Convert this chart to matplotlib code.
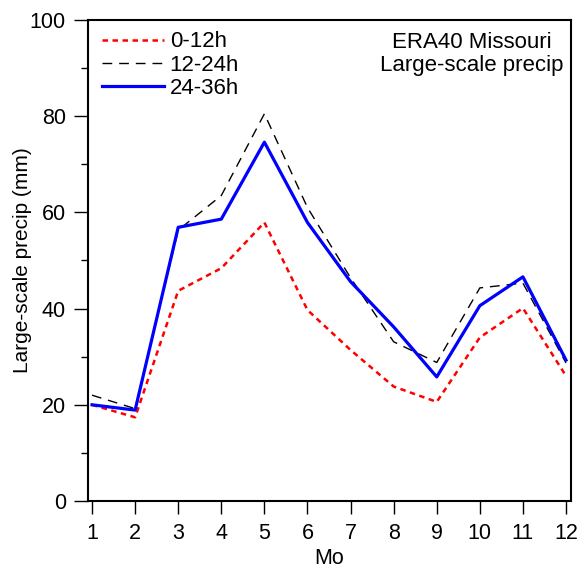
import matplotlib
matplotlib.use("Agg")
import matplotlib.pyplot as plt
import numpy as np

months = np.arange(1, 13)
precip_0_12 = [20.0, 17.4, 43.7, 48.4, 57.9, 39.7, 31.4, 23.8, 20.6, 34.0, 40.1, 26.0]
precip_12_24 = [22.0, 19.2, 56.3, 63.5, 80.5, 61.0, 46.4, 33.1, 28.8, 44.3, 45.3, 28.7]
precip_24_36 = [20.0, 18.9, 56.9, 58.6, 74.6, 57.9, 45.6, 36.2, 25.8, 40.6, 46.6, 29.3]

plt.rcParams["font.family"] = ["Liberation Sans", "DejaVu Sans"]

fig = plt.figure(figsize=(5.81, 5.76), dpi=100)
ax = fig.add_axes([0.1515, 0.1302, 0.8313, 0.8351])

ax.plot(months, precip_0_12, color="red", linestyle=(0, (2.2, 1.8)), linewidth=1.8, label="0-12h")
ax.plot(months, precip_12_24, color="black", linestyle=(0, (7, 5)), linewidth=1.0, label="12-24h")
ax.plot(months, precip_24_36, color="blue", linestyle="-", linewidth=2.3, label="24-36h")

ax.set_xlim(0.907, 12.116)
ax.set_ylim(0, 100)
ax.set_xticks(months)
ax.set_yticks([0, 20, 40, 60, 80, 100])
ax.set_yticks(np.arange(10, 100, 20), minor=True)
ax.tick_params(axis="both", which="major", direction="out", length=10, width=1.0, labelsize=15.5)
ax.tick_params(axis="y", which="minor", direction="out", length=5, width=1.0)
ax.tick_params(axis="x", length=9, pad=6.5)
ax.tick_params(axis="y", pad=6)
for s in ax.spines.values():
    s.set_linewidth(1.5)

ax.set_xlabel("Mo", fontsize=15.5, labelpad=3)
ax.set_ylabel("Large-scale precip (mm)", fontsize=15, labelpad=-2)

ax.legend(loc="upper left", frameon=False, fontsize=16, handlelength=2.8,
          handletextpad=0.25, labelspacing=0.1, borderaxespad=0.0,
          borderpad=0.3, bbox_to_anchor=(0.015, 0.99))
ax.text(0.795, 0.975, "ERA40 Missouri\nLarge-scale precip", transform=ax.transAxes,
        ha="center", va="top", fontsize=16, multialignment="center", linespacing=1.15)

fig.savefig("out.png", dpi=100)
